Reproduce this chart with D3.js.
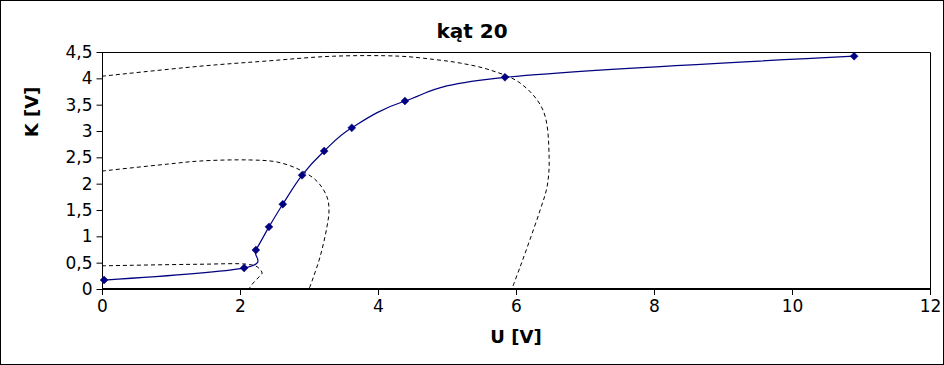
<!DOCTYPE html>
<html><head><meta charset="utf-8">
<script src="https://cdn.jsdelivr.net/npm/d3@7"></script>
<style>body{margin:0;background:#fff;}svg{display:block;font-family:"DejaVu Sans",sans-serif;}</style>
</head><body><svg id="c" width="944" height="365"></svg>
<script>
const title = "kąt 20";
const xLabel = "U [V]";
const yLabel = "K [V]";
const xTicks = [0, 2, 4, 6, 8, 10, 12];
const yTicks = [0, 0.5, 1, 1.5, 2, 2.5, 3, 3.5, 4, 4.5];
// measured series (U, K)
const measU = [0.03, 2.06, 2.23, 2.42, 2.62, 2.90, 3.22, 3.62, 4.39, 5.84, 10.9];
const measK = [0.17, 0.40, 0.74, 1.18, 1.61, 2.16, 2.62, 3.06, 3.57, 4.02, 4.42];
// dashed curves
const curveAU = [0, 1.42, 2.10, 2.25, 2.32, 2.26, 2.17, 2.13];
const curveAK = [0.44, 0.47, 0.47, 0.42, 0.30, 0.21, 0.08, 0];
const curveBU = [0, 0.94, 1.42, 2.14, 2.54, 2.87, 3.12, 3.26, 3.29, 3.26, 3.16, 3.06, 3.0];
const curveBK = [2.24, 2.37, 2.43, 2.45, 2.41, 2.26, 2.04, 1.75, 1.50, 1.18, 0.61, 0.21, 0];
const curveCU = [0, 1.42, 2.4, 3.35, 4.32, 4.8, 5.19, 5.62, 6.06, 6.39, 6.48, 6.45, 6.35, 6.20, 6.06, 5.94];
const curveCK = [4.04, 4.23, 4.33, 4.42, 4.42, 4.36, 4.29, 4.16, 3.91, 3.40, 2.50, 1.94, 1.50, 0.93, 0.42, 0];

const svg = d3.select("#c");
const W = 944, H = 365;
const L = 102, R = 930, T = 52, B = 289;
const x = d3.scaleLinear().domain([0, 12]).range([L, R]);
const y = d3.scaleLinear().domain([0, 4.5]).range([B, T]);

svg.append("rect").attr("x", 0.5).attr("y", 0.5).attr("width", W - 1).attr("height", H - 1)
  .attr("fill", "#fff").attr("stroke", "#000");

// plot area border (top/right)
svg.append("path").attr("d", `M${L},${T + 0.5}H${R + 0.5}V${B}`).attr("fill", "none").attr("stroke", "#000");

const fmt = d => String(d).replace(".", ",");

// y axis
const ya = svg.append("g").attr("transform", `translate(${L + 0.5},0)`)
  .call(d3.axisLeft(y).tickValues(yTicks).tickFormat(fmt).tickSize(6).tickSizeOuter(0));
ya.selectAll("text").attr("font-size", 17).attr("font-family", "DejaVu Sans").attr("fill", "#000").attr("dx", "-1");
ya.selectAll("line,path").attr("stroke", "#000");
ya.select(".domain").attr("d", `M0,${T}V${B}`);

// x axis
const xa = svg.append("g").attr("transform", `translate(0,${B})`)
  .call(d3.axisBottom(x).tickValues(xTicks).tickSize(6).tickSizeOuter(0));
xa.selectAll("text").attr("font-size", 17).attr("font-family", "DejaVu Sans").attr("fill", "#000").attr("dy", "0.85em");
xa.selectAll("line").attr("stroke", "#000");
xa.select(".domain").attr("stroke", "#000").attr("stroke-width", 2).attr("d", `M${L},0H${R + 1}`);

const lineDash = d3.line().x(d => x(d[0])).y(d => y(d[1])).curve(d3.curveCatmullRom.alpha(0.5));
const lineMeas = d3.line().x(d => x(d[0])).y(d => y(d[1])).curve(d3.curveCatmullRom.alpha(0));
function dashed(U, K) {
  svg.append("path").attr("d", lineDash(U.map((u, i) => [u, K[i]])))
    .attr("fill", "none").attr("stroke", "#000").attr("stroke-width", 1).attr("stroke-dasharray", "4,3");
}
dashed(curveAU, curveAK);
dashed(curveBU, curveBK);
dashed(curveCU, curveCK);

const meas = measU.map((u, i) => [u, measK[i]]);
svg.append("path").attr("d", lineMeas(meas)).attr("fill", "none").attr("stroke", "#000080").attr("stroke-width", 1.2);
svg.selectAll(".m").data(meas).enter().append("path")
  .attr("transform", d => `translate(${x(d[0])},${y(d[1])})`)
  .attr("d", d3.symbol().type(d3.symbolDiamond2).size(40))
  .attr("fill", "#000080").attr("stroke", "#000080").attr("stroke-width", 0.5);

svg.append("text").attr("x", 472).attr("y", 38).attr("text-anchor", "middle")
  .attr("font-size", 20).attr("font-weight", "bold").text(title);
svg.append("text").attr("x", (L + R) / 2).attr("y", 343).attr("text-anchor", "middle")
  .attr("font-size", 18).attr("font-weight", "bold").text(xLabel);
svg.append("text").attr("transform", "translate(38,112) rotate(-90)").attr("text-anchor", "middle")
  .attr("font-size", 18).attr("font-weight", "bold").text(yLabel);
</script></body></html>
